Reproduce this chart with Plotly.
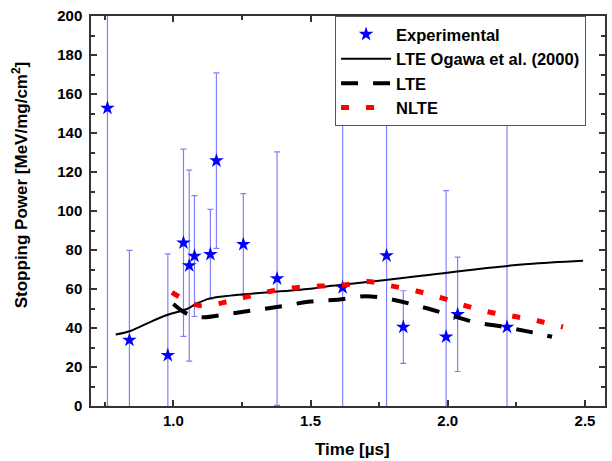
import plotly.graph_objects as go

# Experimental points
exp_x = [0.76, 0.84, 0.98, 1.037, 1.058, 1.077, 1.135, 1.157, 1.255, 1.378, 1.617, 1.777, 1.838, 1.994, 2.036, 2.216]
exp_y = [152.8, 33.8, 26.0, 83.7, 72.0, 76.9, 77.8, 125.8, 82.9, 65.3, 60.7, 77.1, 40.5, 35.5, 47.0, 40.5]
exp_err = [153, 46, 52, 48, 49, 31, 23, 45, 26, 65, 86, 130, 18.6, 75, 29.3, 107]

# LTE Ogawa et al. (2000)
og_x = [0.79, 0.844, 0.905, 0.977, 1.047, 1.086, 1.134, 1.207, 1.327, 1.508, 1.569, 1.665, 1.774, 1.931, 2.112, 2.293, 2.493]
og_y = [36.7, 38.5, 42.4, 46.7, 49.6, 52.6, 55.2, 56.6, 58.1, 60.3, 61.5, 62.9, 64.6, 67.2, 70.3, 72.8, 74.5]

# LTE
lte_x = [1.0, 1.047, 1.1, 1.2, 1.3, 1.4, 1.5, 1.6, 1.7, 1.8, 1.9, 2.0, 2.1, 2.2, 2.3, 2.38]
lte_y = [52.3, 47.5, 45.5, 47.2, 49.2, 51.3, 53.6, 54.5, 56.3, 54.5, 51.0, 47.0, 43.0, 40.7, 38.0, 35.5]

# NLTE
nlte_x = [0.995, 1.092, 1.182, 1.27, 1.359, 1.446, 1.533, 1.623, 1.71, 1.798, 1.885, 1.975, 2.063, 2.15, 2.24, 2.327, 2.42]
nlte_y = [58.3, 51.6, 53.0, 56.1, 59.0, 60.7, 61.5, 62.0, 63.8, 61.5, 59.0, 55.6, 51.5, 48.2, 46.0, 43.7, 40.5]

FONT = "Liberation Sans, Arial, sans-serif"

fig = go.Figure()
fig.add_trace(go.Scatter(
    x=exp_x, y=exp_y, mode="markers", name="Experimental",
    marker=dict(symbol="star", size=11, color="#0000ff", line=dict(width=0)),
    error_y=dict(type="data", array=exp_err, visible=True, color="#8080ff",
                 thickness=1.2, width=3),
))
fig.add_trace(go.Scatter(
    x=og_x, y=og_y, mode="lines", name="LTE Ogawa et al. (2000)",
    line=dict(color="black", width=2, shape="spline"),
))
fig.add_trace(go.Scatter(
    x=lte_x, y=lte_y, mode="lines", name="LTE",
    line=dict(color="black", width=4, dash="17px,15px", shape="spline"),
))
fig.add_trace(go.Scatter(
    x=nlte_x, y=nlte_y, mode="lines", name="NLTE",
    line=dict(color="#ff0000", width=5, dash="8px,17px", shape="spline"),
))

axis_common = dict(
    showgrid=False, zeroline=False, showline=True, linecolor="#333333", linewidth=1.5,
    mirror="ticks", ticks="inside", ticklen=6, tickwidth=1.5, tickcolor="#333333",
    tickfont=dict(family=FONT, size=15, color="black", weight="bold"),
)

fig.update_xaxes(range=[0.70, 2.573], tick0=1.0, dtick=0.5, tickformat=".1f",
                 minor=dict(ticks="inside", ticklen=4, dtick=0.25, tick0=0.75, tickcolor="#333333", tickwidth=1.5),
                 **axis_common)
fig.update_yaxes(range=[0, 200], dtick=20,
                 minor=dict(ticks="inside", ticklen=4, dtick=10, tickcolor="#333333", tickwidth=1.5),
                 ticklabelstandoff=4,
                 **axis_common)

fig.update_layout(
    width=612, height=461,
    margin=dict(l=91, r=5, t=16, b=55),
    plot_bgcolor="white", paper_bgcolor="white",
    font=dict(family=FONT, size=15, color="black", weight="bold"),
    showlegend=True,
    legend=dict(x=(336 - 91) / 516, y=1.0, xanchor="left", yanchor="top",
                bgcolor="white", bordercolor="#555555", borderwidth=1,
                font=dict(family=FONT, size=16.5, color="black", weight="bold"),
                itemwidth=50, tracegroupgap=0),
    annotations=[
        dict(text="Time [µs]", xref="paper", yref="paper", x=(354 - 91) / 516, y=-(449 - 406) / 390,
             xanchor="center", yanchor="middle", showarrow=False,
             font=dict(family=FONT, size=17, color="black", weight="bold")),
        dict(text="Stopping Power [MeV/mg/cm<sup>2</sup>]", xref="paper", yref="paper",
             x=-(91 - 20) / 516, y=(406 - 185) / 390, textangle=-90,
             xanchor="center", yanchor="middle", showarrow=False,
             font=dict(family=FONT, size=17, color="black", weight="bold")),
    ],
)

fig.write_html("out.html", config={"displayModeBar": False},
               post_script="document.body.style.margin='0';document.body.style.overflow='hidden';")
